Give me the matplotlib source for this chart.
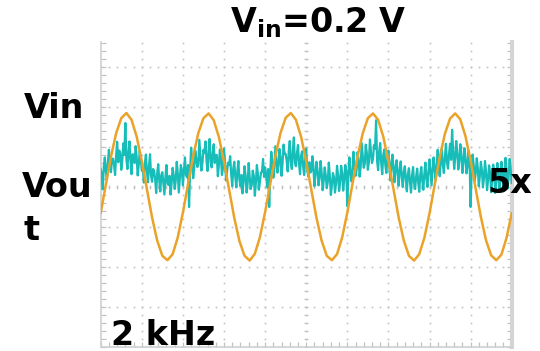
import numpy as np
import matplotlib.pyplot as plt

plt.rcParams['mathtext.fontset'] = 'dejavusans'

# scope traces, in divisions (x: 0-10 div, y: 0 = centre line)
vin_div = [
    -0.65, 0.06, 0.76, 1.34, 1.72, 1.85, 1.68, 1.26, 0.65, -0.06, -0.76, -1.34, -1.72, -1.83, -1.68, -1.26,
    -0.64, 0.07, 0.77, 1.35, 1.72, 1.84, 1.67, 1.25, 0.64, -0.07, -0.77, -1.35, -1.72, -1.84, -1.67, -1.25,
    -0.63, 0.08, 0.77, 1.35, 1.73, 1.85, 1.68, 1.26, 0.64, -0.07, -0.77, -1.34, -1.72, -1.83, -1.68, -1.26,
    -0.64, 0.07, 0.76, 1.34, 1.72, 1.84, 1.68, 1.26, 0.65, -0.06, -0.76, -1.34, -1.72, -1.84, -1.68, -1.27,
    -0.66, 0.05, 0.75, 1.33, 1.71, 1.84, 1.69, 1.27, 0.66, -0.05, -0.75, -1.33, -1.71, -1.83, -1.69, -1.27,
    -0.66,
]

# Vout samples every 0.05 div (the outer edges of the noisy band) ...
vout_even = [
    # 0 - 2 div
    0.44, -0.06, 0.74, 0.18, 0.93, 0.37, 0.71, 0.30, 1.13, 0.91, 0.43, 1.09, 1.60, 0.45, 1.14, 0.32,
    0.80, 1.02, 0.29, 0.90, 0.41, 0.11, 0.81, 0.12, 0.82, 0.13, 0.39, -0.15, 0.57, -0.11, 0.37, -0.19,
    0.55, 0.05, -0.19, 0.48, -0.05, 0.63, -0.14, 0.55,
    # 2 - 4 div
    0.04, 0.74, 0.24, -0.50, 0.98, 0.22, 0.91, 0.50, 1.18, 0.41, 0.93, 1.14, 0.40, 1.20, 0.49, 1.07,
    0.80, 0.27, 0.94, 0.30, 0.96, 0.16, 0.61, 0.77, 0.02, 0.63, -0.01, 0.65, 0.02, -0.16, 0.52, -0.14,
    0.60, -0.05, 0.41, -0.22, 0.55, -0.07, 0.36, 0.70,
    # 4 - 6 div
    0.49, -0.01, -0.50, 0.88, 0.23, 1.02, 0.36, 0.95, 0.28, 1.06, 0.83, 0.39, 1.15, 0.45, 1.24, 0.52,
    1.05, 0.32, 0.89, 0.30, 0.96, 0.26, 0.36, 0.77, 0.02, 0.63, 0.04, 0.65, -0.08, 0.49, -0.03, 0.61,
    -0.20, 0.35, -0.14, 0.53, -0.10, 0.53, -0.09, 0.55,
    # 6 - 8 div
    -0.48, 0.74, 0.14, 0.88, 0.28, 0.87, 0.26, 1.10, 0.48, 1.06, 0.43, 1.19, 0.60, 1.05, 1.67, 0.42,
    1.10, 0.32, 0.94, 0.35, 0.91, 0.16, 0.81, 0.12, 0.67, 0.03, 0.64, 0.00, 0.52, -0.11, 0.47, -0.14,
    0.50, -0.05, 0.46, -0.12, 0.50, -0.07, 0.61, 0.00,
    # 8 - 10 div
    0.69, 0.04, 0.74, 0.18, 0.93, 0.27, 0.96, 0.35, 1.08, 0.46, 1.08, 1.43, 0.45, 1.15, 0.44, 1.07,
    0.35, 0.97, 0.34, 0.90, -0.50, 0.81, 0.16, 0.72, 0.02, 0.63, -0.01, 0.65, -0.08, 0.54, -0.13, 0.56,
    -0.15, 0.60, -0.09, 0.63, -0.10, 0.73, -0.04, 0.70,
    0.10,
]

# ... and the samples in between, closer to the middle of the band
vout_odd = [
    0.30, 0.50, 0.40, 0.62, 0.48, 0.70, 0.55, 0.78, 0.62, 0.85, 0.66, 0.80, 0.70, 0.88, 0.64, 0.82,
    0.60, 0.75, 0.55, 0.68, 0.45, 0.60, 0.38, 0.52, 0.28, 0.45, 0.20, 0.35, 0.15, 0.30, 0.10, 0.25,
    0.08, 0.28, 0.10, 0.30, 0.15, 0.35, 0.20, 0.42,
    0.42, 0.30, 0.55, 0.40, 0.65, 0.48, 0.72, 0.55, 0.80, 0.60, 0.85, 0.65, 0.90, 0.62, 0.85, 0.60,
    0.80, 0.55, 0.72, 0.48, 0.65, 0.40, 0.55, 0.32, 0.45, 0.25, 0.40, 0.18, 0.30, 0.12, 0.28, 0.08,
    0.25, 0.05, 0.28, 0.10, 0.32, 0.15, 0.38, 0.25,
    0.30, 0.45, 0.35, 0.58, 0.45, 0.70, 0.52, 0.75, 0.60, 0.82, 0.65, 0.88, 0.62, 0.90, 0.60, 0.85,
    0.58, 0.78, 0.52, 0.70, 0.45, 0.62, 0.40, 0.50, 0.30, 0.42, 0.22, 0.38, 0.15, 0.30, 0.12, 0.28,
    0.05, 0.25, 0.08, 0.30, 0.12, 0.35, 0.18, 0.40,
    0.25, 0.40, 0.35, 0.55, 0.42, 0.68, 0.50, 0.78, 0.58, 0.85, 0.62, 0.90, 0.70, 0.95, 0.65, 0.88,
    0.60, 0.80, 0.55, 0.72, 0.48, 0.62, 0.40, 0.52, 0.32, 0.45, 0.25, 0.38, 0.18, 0.32, 0.12, 0.28,
    0.10, 0.26, 0.12, 0.30, 0.15, 0.34, 0.20, 0.40,
    0.38, 0.45, 0.42, 0.58, 0.50, 0.68, 0.55, 0.75, 0.62, 0.82, 0.68, 0.90, 0.72, 0.88, 0.65, 0.82,
    0.60, 0.75, 0.52, 0.68, 0.40, 0.55, 0.35, 0.48, 0.28, 0.42, 0.22, 0.38, 0.18, 0.34, 0.15, 0.32,
    0.14, 0.35, 0.18, 0.38, 0.20, 0.42, 0.25, 0.45,
]

vin_t = np.linspace(0, 10, len(vin_div))
t_even = np.linspace(0, 10, len(vout_even))
t_odd = t_even[:-1] + (t_even[1] - t_even[0]) / 2

vout_t = np.empty(len(t_even) + len(t_odd))
vout = np.empty_like(vout_t)
vout_t[0::2], vout_t[1::2] = t_even, t_odd
vout[0::2], vout[1::2] = vout_even, vout_odd

GRID = '#c2c2c2'
FRAME = '#cfcfcf'

fig = plt.figure(figsize=(5.4, 3.51), dpi=100)
ax = fig.add_axes([100.7 / 540, 4 / 351, 411 / 540, 305 / 351])
ax.set_xlim(0, 10)
ax.set_ylim(-4, 3.625)

# dotted graticule
gx = np.arange(0, 10.01, 0.2)
gy = np.arange(-4, 3.63, 0.2)
for yy in range(-3, 4):
    ax.plot(gx, np.full_like(gx, yy), ls='none', marker='s', ms=1.2, mec='none', color=GRID)
for xx in range(1, 10):
    ax.plot(np.full_like(gy, xx), gy, ls='none', marker='s', ms=1.2, mec='none', color=GRID)
# centre axes with small ticks
ax.plot(np.full_like(gy, 5), gy, ls='none', marker='_', ms=3.5, mew=0.9, color=GRID)
ax.plot(gx, np.zeros_like(gx), ls='none', marker='|', ms=3.5, mew=0.9, color=GRID)

ax.set_xticks(gx)
ax.set_yticks(gy)
ax.tick_params(direction='in', length=3.5, width=0.9, colors=GRID,
               labelbottom=False, labelleft=False,
               left=True, right=True, bottom=True, top=False)
ax.spines['top'].set_visible(False)
for side in ['left', 'bottom']:
    ax.spines[side].set_color(FRAME)
    ax.spines[side].set_linewidth(1.2)
ax.spines['right'].set_color('#d4d4d4')
ax.spines['right'].set_linewidth(3)

ax.plot(vout_t, vout, color='#17bdb8', lw=1.6, zorder=3)
ax.plot(vin_t, vin_div, color='#eba228', lw=1.8, zorder=4)


def label(x, y, s, **kw):
    fig.text(x / 540, 1 - y / 351, s, fontsize=24, fontweight='bold',
             va='baseline', **kw)


fig.text(318 / 540, 1 - 32 / 351, r'$\mathbf{V}_{\mathbf{in}}$=0.2 V',
         ha='center', va='baseline', fontsize=24, fontweight='bold')
label(24, 118, 'Vin')
label(22, 197, 'Vou')
label(24, 240, 't')
label(487, 193, '5x')
label(111, 345, '2 kHz')

plt.savefig('out.png', dpi=100)
